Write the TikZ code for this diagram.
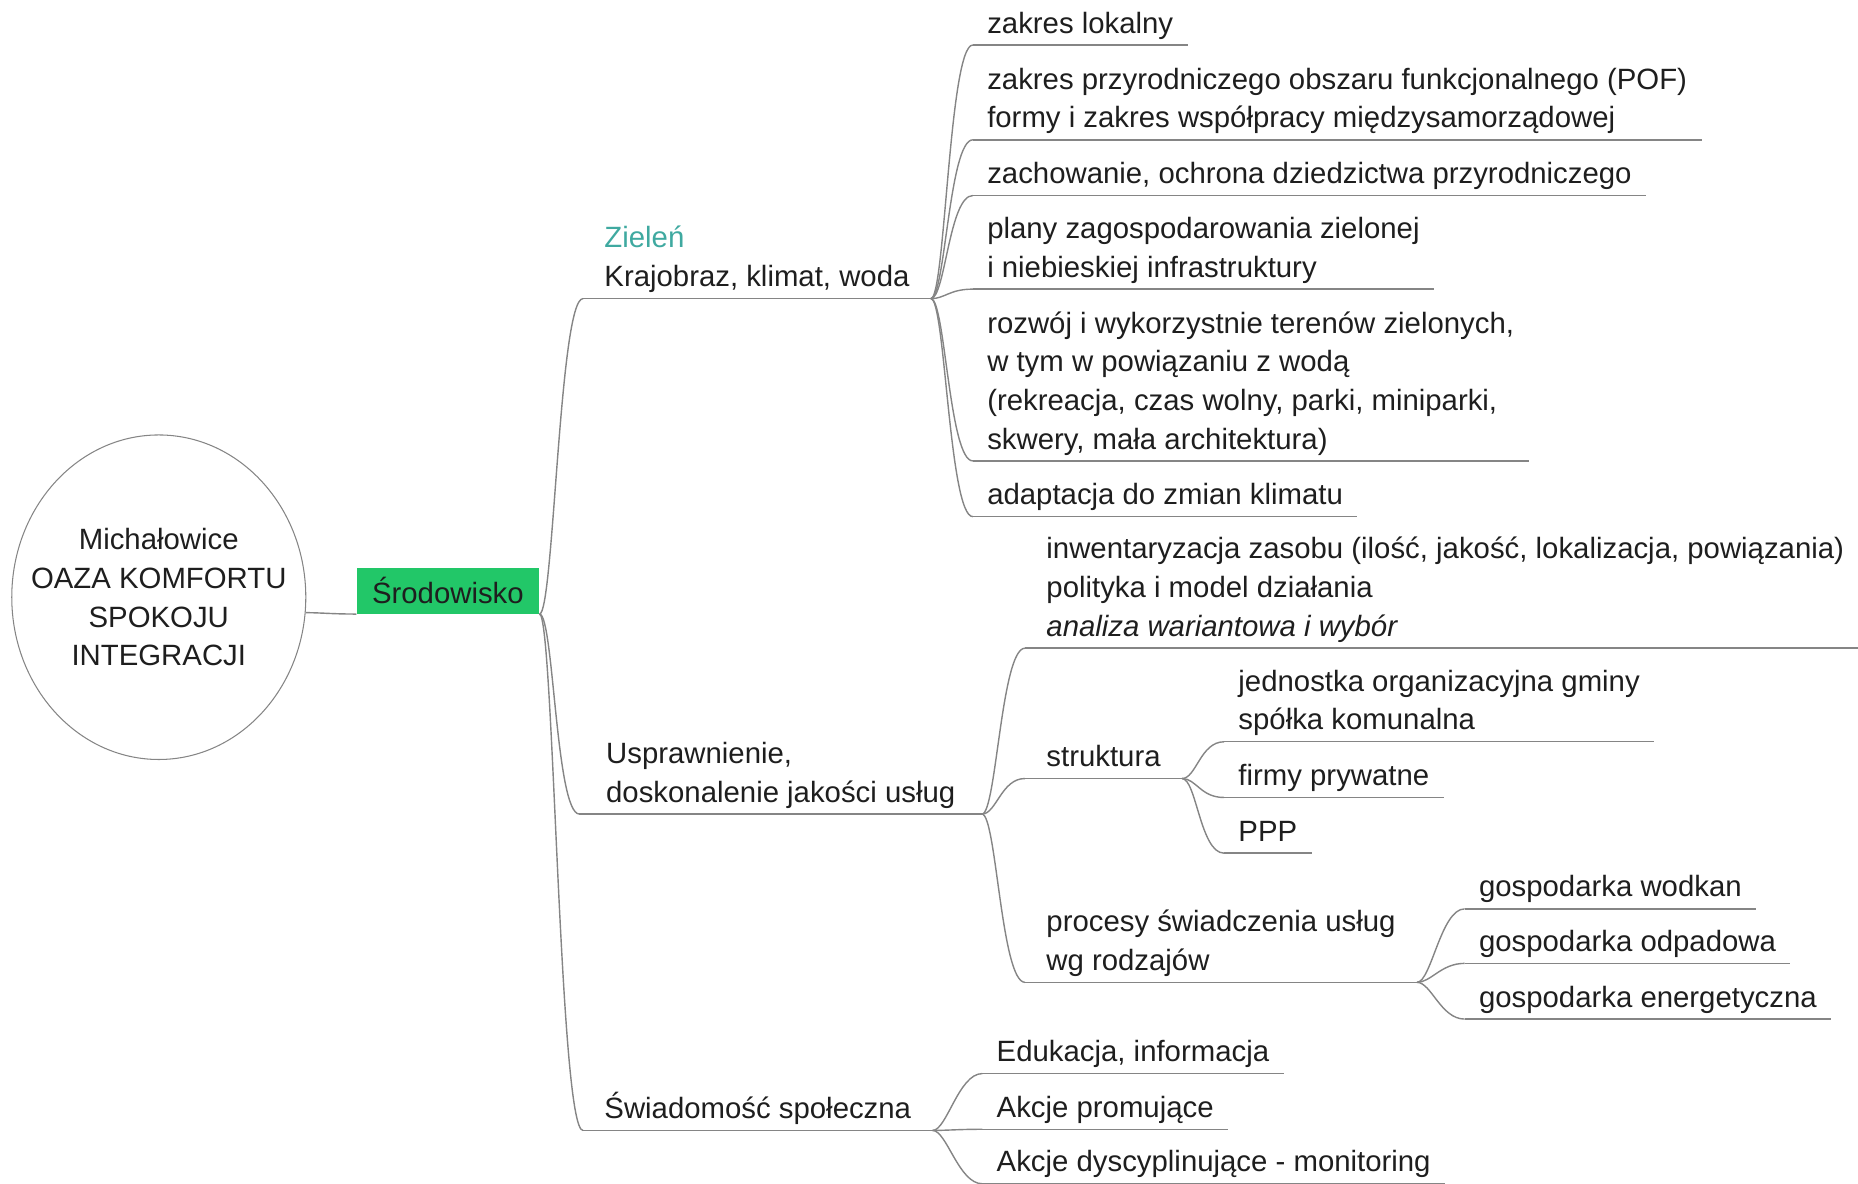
\documentclass[tikz,border=0pt]{standalone}
\usepackage{fontspec}
\setmainfont{Liberation Sans}
\usepackage{xcolor}
\usepackage{tikz}
\usetikzlibrary{shapes.geometric}
\definecolor{ink}{HTML}{1E1E1E}
\definecolor{wire}{HTML}{858585}
\definecolor{envgreen}{HTML}{22C768}
\definecolor{zielcol}{HTML}{3FA9A0}
\tikzset{
  topic/.style={anchor=south west,align=left,inner xsep=12pt,inner ysep=0pt,
    text=ink,execute at end node=\strut},
  leaf/.style={topic,inner xsep=8pt},
  under/.style={draw=wire,line width=0.8pt},
  link/.style={draw=wire,line width=0.8pt,
    to path={.. controls +(12,0) and +(-20,0) .. (\tikztotarget)}}
}

\begin{document}
\begin{tikzpicture}[x=0.0237cm,y=-0.0237cm,font=\fontsize{16.7}{22}\selectfont]
\useasboundingbox (0,0) rectangle (1568,999);
\node[ellipse,draw=wire,line width=0.6pt,minimum width=5.88cm,minimum height=6.49cm,
  inner xsep=-14pt,inner ysep=0pt,align=center,text=ink] (root) at (134,504)
  {Michałowice\\OAZA KOMFORTU\\SPOKOJU\\INTEGRACJI};
\node[fill=envgreen,minimum width=3.65cm,minimum height=0.92cm,inner sep=0pt,text=ink]
  (env) at (378,498.5) {Środowisko};

\node[topic] (ziel) at (492,252) {{\color{zielcol}Zieleń}\\Krajobraz, klimat, woda};
\node[topic,inner xsep=15pt] (usl) at (489,687) {Usprawnienie,\\doskonalenie jakości usług};
\node[topic] (swiad) at (492,954) {Świadomość społeczna};

\node[leaf] (lok) at (821,38) {zakres lokalny};
\node[leaf] (pof) at (821,118) {zakres przyrodniczego obszaru funkcjonalnego (POF)\\formy i zakres współpracy międzysamorządowej};
\node[leaf] (dzie) at (821,165) {zachowanie, ochrona dziedzictwa przyrodniczego};
\node[leaf] (plan) at (821,244) {plany zagospodarowania zielonej\\i niebieskiej infrastruktury};
\node[leaf] (tere) at (821,389) {rozwój i wykorzystnie terenów zielonych,\\w tym w powiązaniu z wodą\\(rekreacja, czas wolny, parki, miniparki,\\skwery, mała architektura)};
\node[leaf] (klim) at (821,436) {adaptacja do zmian klimatu};

\node[topic] (inw) at (865,547) {inwentaryzacja zasobu (ilość, jakość, lokalizacja, powiązania)\\polityka i model działania\\\textit{analiza wariantowa i wybór}};
\node[topic] (str) at (865,657) {struktura};
\node[topic] (proc) at (865,829) {procesy świadczenia usług\\wg rodzajów};

\node[leaf] (jedn) at (1033,626) {jednostka organizacyjna gminy\\spółka komunalna};
\node[leaf] (firm) at (1033,673) {firmy prywatne};
\node[leaf] (ppp) at (1033,720) {PPP};

\node[leaf] (wod) at (1236,767) {gospodarka wodkan};
\node[leaf] (odp) at (1236,813) {gospodarka odpadowa};
\node[leaf] (ene) at (1236,860) {gospodarka energetyczna};

\node[leaf] (edu) at (829,906) {Edukacja, informacja};
\node[leaf] (prom) at (829,953) {Akcje promujące};
\node[leaf] (dysc) at (829,999) {Akcje dyscyplinujące - monitoring};

\foreach \n in {ziel,usl,swiad,lok,pof,dzie,plan,tere,klim,inw,str,proc,
  jedn,firm,ppp,wod,odp,ene,edu,prom,dysc}
  \draw[under] (\n.south west) -- (\n.south east);

\draw[link] (root.-6) to (env.south west);
\foreach \c in {ziel,usl,swiad} \draw[link] (env.south east) to (\c.south west);
\foreach \c in {lok,pof,dzie,plan,tere,klim} \draw[link] (ziel.south east) to (\c.south west);
\foreach \c in {inw,str,proc} \draw[link] (usl.south east) to (\c.south west);
\foreach \c in {jedn,firm,ppp} \draw[link] (str.south east) to (\c.south west);
\foreach \c in {wod,odp,ene} \draw[link] (proc.south east) to (\c.south west);
\foreach \c in {edu,prom,dysc} \draw[link] (swiad.south east) to (\c.south west);
\end{tikzpicture}
\end{document}
